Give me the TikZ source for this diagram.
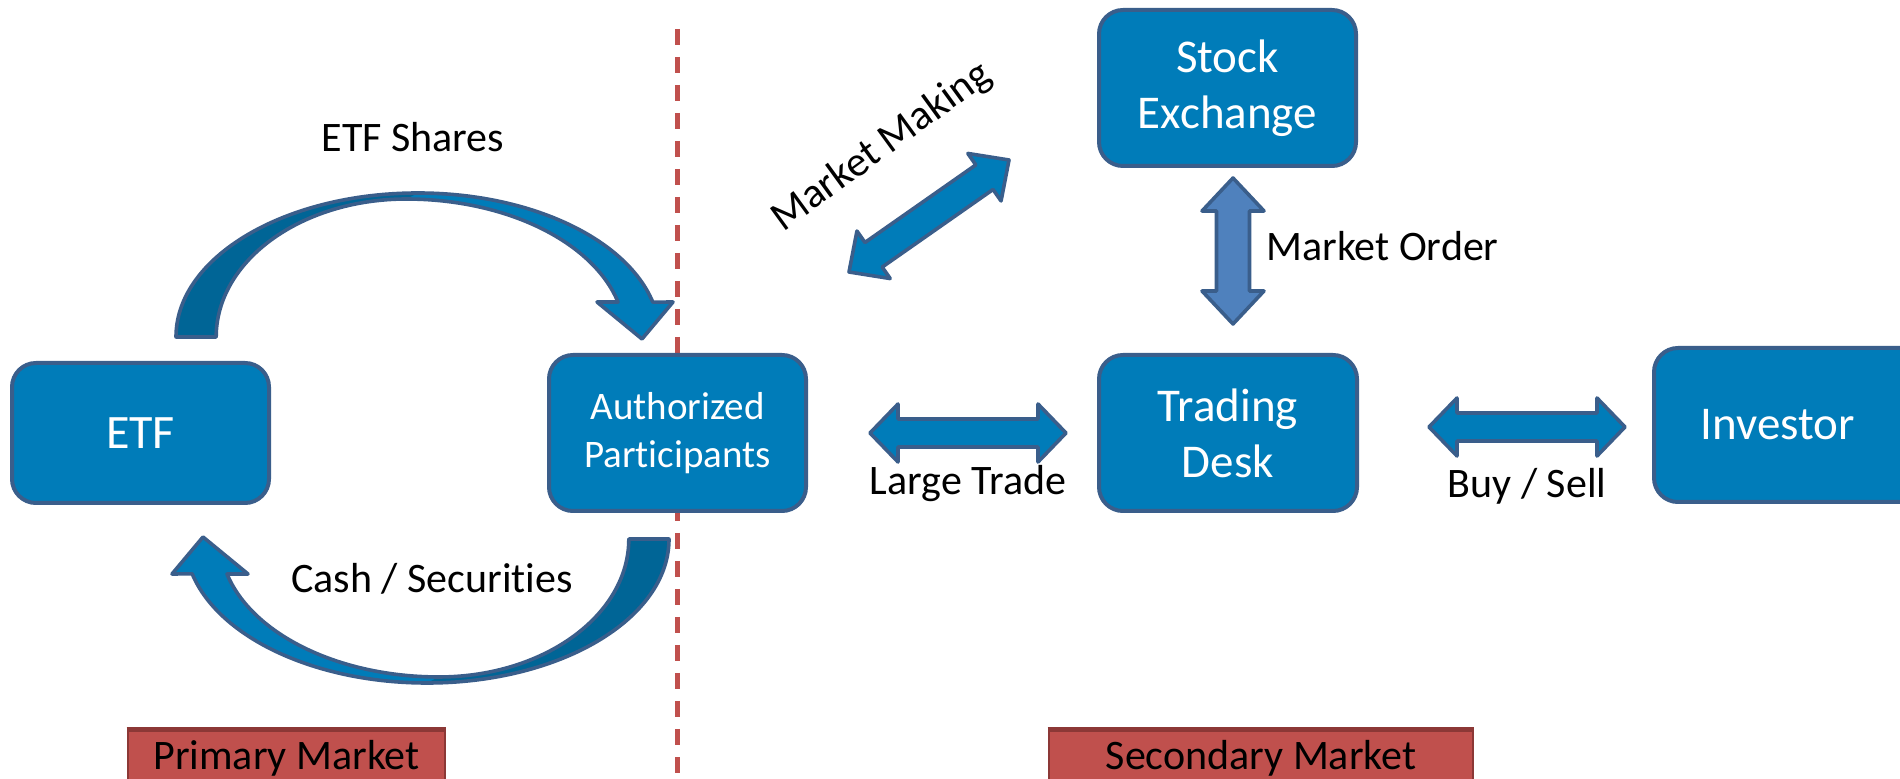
\documentclass[tikz,border=0pt]{standalone}
\usepackage{fontspec}
\setmainfont{Carlito}[Ligatures=NoCommon]
\usetikzlibrary{calc}
\definecolor{boxblue}{RGB}{0,124,185}
\definecolor{boxline}{RGB}{58,94,139}
\definecolor{darkblue}{RGB}{0,101,150}
\definecolor{lightblue}{RGB}{79,129,189}
\definecolor{mred}{RGB}{192,80,77}
\definecolor{mredline}{RGB}{140,56,54}
\newcommand\dblarrow[6]{% #1 style, #2 A, #3 B, #4 head length, #5 half head, #6 half shaft
  \path ($(#2)!#4!(#3)$) coordinate (ah) ($(#3)!#4!(#2)$) coordinate (bh);
  \draw[#1] (#2) -- ($(ah)!#5!90:(#3)$) -- ($(ah)!#6!90:(#3)$) -- ($(bh)!#6!-90:(#2)$)
    -- ($(bh)!#5!-90:(#2)$) -- (#3) -- ($(bh)!#5!90:(#2)$) -- ($(bh)!#6!90:(#2)$)
    -- ($(ah)!#6!-90:(#3)$) -- ($(ah)!#5!-90:(#3)$) -- cycle;}
\newcommand\curvedarrow[1]{%
  \begin{scope}[#1]
    \fill[boxblue] (176,337) arc[start angle=180, end angle=14, x radius=121pt, y radius=72pt]
      -- (673,302) -- (642,339) -- (597,302) -- (618,302)
      arc[start angle=14.7, end angle=90, x radius=109.5pt, y radius=69pt]
      arc[start angle=90, end angle=180, x radius=95pt, y radius=69pt] -- cycle;
    \fill[darkblue] (176,337) arc[start angle=180, end angle=90, x radius=121pt, y radius=72pt]
      -- (406.2,199) arc[start angle=90, end angle=180, x radius=95pt, y radius=69pt] -- cycle;
    \draw[boxline, line width=1.8pt, line join=round] (176,337)
      arc[start angle=180, end angle=14, x radius=121pt, y radius=72pt]
      -- (673,302) -- (642,339) -- (597,302) -- (618,302)
      arc[start angle=14.7, end angle=90, x radius=109.5pt, y radius=69pt]
      arc[start angle=90, end angle=180, x radius=95pt, y radius=69pt] -- cycle;
  \end{scope}}
\begin{document}
\begin{tikzpicture}[x=0.5pt,y=-0.5pt,
  bluebox/.style={draw=boxline, line width=2pt, fill=boxblue, rounded corners=12pt,
    text=white, align=center, inner sep=0pt, font=\fontsize{23.5}{28}\selectfont},
  blockarrow/.style={draw=boxline, line width=1.8pt, fill=boxblue, line join=round},
  lbl/.style={font=\fontsize{21}{25}\selectfont, inner sep=0pt},
  marketbox/.style={draw=mredline, line width=1.3pt, fill=mred,
    font=\fontsize{21}{25}\selectfont, inner sep=0pt},
  divider/.style={draw=mred, line width=2.5pt, dash pattern=on 8pt off 6pt}]
\useasboundingbox (0,0) rectangle (1900,779);
\clip (0,0) rectangle (1900,779);
% divider
\coordinate (divtop) at (677.5,29);
\coordinate (divbot) at (677.5,800);
\draw[divider] (divtop) -- (divbot);
% curved arrows
\curvedarrow{}
\curvedarrow{rotate around={180:(422.5,438)}}
% boxes
\node[bluebox, minimum width=128.5pt, minimum height=70pt] (etf) at (140.5,433) {\fontsize{24}{28}\selectfont ETF};
\node[bluebox, minimum width=128.5pt, minimum height=78pt, font=\fontsize{19.5}{24}\selectfont] (ap) at (677.5,433) {Authorized\\Participants};
\node[bluebox, minimum width=128.5pt, minimum height=78pt] (se) at (1227.5,88) {Stock\\Exchange};
\node[bluebox, minimum width=129pt, minimum height=78pt] (td) at (1228,433) {Trading\\Desk};
\node[bluebox, minimum width=140pt, minimum height=77pt, anchor=west] (inv) at (1652,425) {\hspace*{-16pt}Investor};
% block arrows
\coordinate (lta) at (870,433); \coordinate (ltb) at (1066,433);
\coordinate (bsa) at (1429,427); \coordinate (bsb) at (1625,427);
\coordinate (moa) at (1233,178); \coordinate (mob) at (1233,324);
\coordinate (mma) at (849,272); \coordinate (mmb) at (1009,160);
\dblarrow{blockarrow}{lta}{ltb}{14pt}{14.5pt}{7pt}
\dblarrow{blockarrow}{bsa}{bsb}{14pt}{14.5pt}{7pt}
\dblarrow{blockarrow, fill=lightblue}{moa}{mob}{16.5pt}{15.5pt}{8.25pt}
\dblarrow{blockarrow}{mma}{mmb}{15pt}{14.5pt}{7.5pt}
% labels
\node[lbl] (etfshares) at (413,137) {ETF Shares};
\node[lbl] (cashsec) at (432,579) {Cash / Securities};
\node[lbl, rotate=36] (mmlbl) at (882,147) {Market Making};
\node[lbl, anchor=west] (molbl) at (1266,246) {Market Order};
\node[lbl] (ltlbl) at (968,484) {Large Trade};
\node[lbl] (bslbl) at (1527,486) {Buy / Sell};
% market boxes
\node[marketbox, minimum width=158.5pt, minimum height=30pt, anchor=north] (pm) at (286.5,727) {Primary Market};
\node[marketbox, minimum width=212pt, minimum height=30pt, anchor=north] (sm) at (1261,727) {Secondary Market};
\draw[mredline, line width=2.5pt] ([yshift=-1.25pt]pm.north west) -- ([yshift=-1.25pt]pm.north east);
\draw[mredline, line width=2.5pt] ([yshift=-1.25pt]sm.north west) -- ([yshift=-1.25pt]sm.north east);
\end{tikzpicture}
\end{document}
